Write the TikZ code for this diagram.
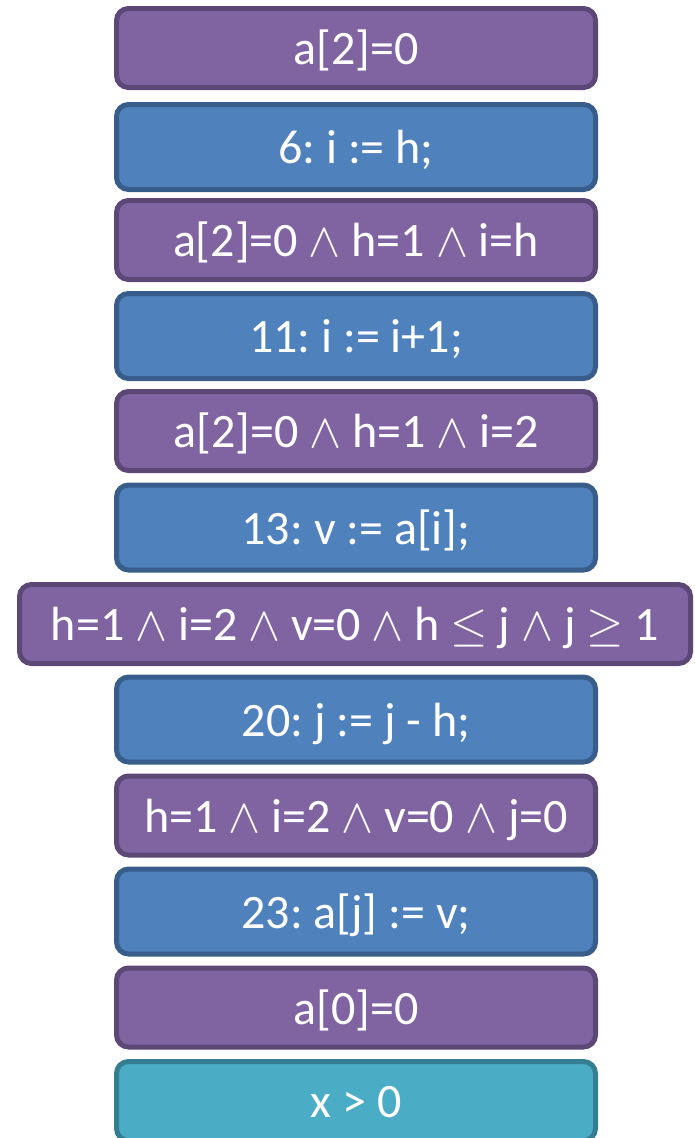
\RequirePackage{fix-cm}
\documentclass[tikz,border=0pt]{standalone}
\usepackage{fontspec}
\setmainfont{Carlito}
\frenchspacing
\definecolor{pfill}{HTML}{8064A2}
\definecolor{pline}{HTML}{5C4776}
\definecolor{bfill}{HTML}{4F81BD}
\definecolor{bline}{HTML}{385D8A}
\definecolor{tfill}{HTML}{4BACC6}
\definecolor{tline}{HTML}{357D91}
\tikzset{
  box/.style={draw, line width=5pt, rounded corners=12pt, text=white,
    font=\fontsize{48}{52}\selectfont, text height=33pt, text depth=0pt,
    inner sep=0pt, anchor=center},
  cond/.style={box, fill=pfill, draw=pline, minimum width=479pt, minimum height=79pt},
  stmt/.style={box, fill=bfill, draw=bline, minimum width=479pt, minimum height=85pt},
  goal/.style={box, fill=tfill, draw=tline, minimum width=479pt, minimum height=79pt},
}
\begin{document}
\begin{tikzpicture}[x=1pt,y=-1pt]
\useasboundingbox (0,0) rectangle (695,1138);
\node[cond] (c1) at (356,48) {a[2]=0};
\node[stmt] (s1) at (356,147) {6: i := h;};
\node[cond] (c2) at (356,240) {a[2]=0 $\wedge$ h=1 $\wedge$ i=h};
\node[stmt] (s2) at (356,336) {11: i := i+1;};
\node[cond] (c3) at (356,431) {a[2]=0 $\wedge$ h=1 $\wedge$ i=2};
\node[stmt] (s3) at (356,527.5) {13: v := a[i];};
\node[cond, minimum width=671pt] (c4) at (355,624) {h=1 $\wedge$ i=2 $\wedge$ v=0 $\wedge$ h $\leq$ j $\wedge$ j $\geq$ 1};
\node[stmt] (s4) at (356,719.5) {20: j := j - h;};
\node[cond] (c5) at (356,815.5) {h=1 $\wedge$ i=2 $\wedge$ v=0 $\wedge$ j=0};
\node[stmt] (s5) at (356,911.5) {23: a[j] := v;};
\node[cond] (c6) at (356,1007.5) {a[0]=0};
\node[goal] (g1) at (356,1101) {x > 0};
\end{tikzpicture}
\end{document}
